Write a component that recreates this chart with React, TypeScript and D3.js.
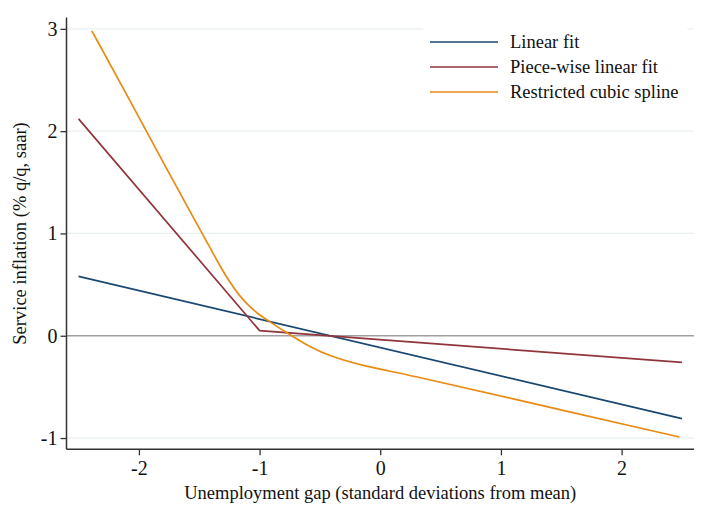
import React, { useEffect, useRef } from 'react';
import * as d3 from 'd3';

// values
const linearFit: [number, number][] = [[-2.5, 0.58], [2.5, -0.81]];
const pieceWiseFit: [number, number][] = [[-2.5, 2.12], [-1.0, 0.05], [2.5, -0.26]];
const cubicSpline: [number, number][] = [
  [-2.39, 2.98], [-2.06, 2.27], [-1.77, 1.63], [-1.495, 1.04], [-1.41, 0.86],
  [-1.33, 0.685], [-1.246, 0.52], [-1.163, 0.385], [-1.08, 0.28], [-0.997, 0.2],
  [-0.914, 0.135], [-0.831, 0.072], [-0.748, 0.01], [-0.583, -0.11], [-0.417, -0.2],
  [-0.141, -0.296], [0.246, -0.384], [1.0, -0.59], [2.48, -0.99],
];
const seriesNames = ['Linear fit', 'Piece-wise linear fit', 'Restricted cubic spline'];
const seriesColors = ['#1a476f', '#90353b', '#e98a12'];
const xTicks = [-2, -1, 0, 1, 2];
const yTicks = [-1, 0, 1, 2, 3];

const W = 701, H = 506;
const font = '"Liberation Serif", "Times New Roman", serif';

export default function App() {
  const ref = useRef<SVGSVGElement>(null);

  useEffect(() => {
    const svg = d3.select(ref.current);
    svg.selectAll('*').remove();

    const x = d3.scaleLinear().domain([-2.6, 2.6]).range([66.5, 694]);
    const y = d3.scaleLinear().domain([-1.11, 3.11]).range([449.3, 17.6]);

    // gridlines
    svg.append('g').selectAll('line')
      .data(yTicks.filter(d => d !== 0))
      .enter().append('line')
        .attr('x1', x(-2.6)).attr('x2', x(2.6))
        .attr('y1', d => y(d)).attr('y2', d => y(d))
        .attr('stroke', '#e8f0f2').attr('stroke-width', 1.2);

    // zero reference line
    svg.append('line')
      .attr('x1', x(-2.6)).attr('x2', x(2.6))
      .attr('y1', y(0)).attr('y2', y(0))
      .attr('stroke', '#a0a0a0').attr('stroke-width', 1.6);

    const line = d3.line<[number, number]>().x(d => x(d[0])).y(d => y(d[1]));
    const spline = d3.line<[number, number]>().x(d => x(d[0])).y(d => y(d[1]))
      .curve(d3.curveBasis);

    const series = [linearFit, pieceWiseFit, cubicSpline];
    series.forEach((s, i) => {
      svg.append('path')
        .attr('d', (i === 2 ? spline : line)(s))
        .attr('fill', 'none')
        .attr('stroke', seriesColors[i])
        .attr('stroke-width', 1.7);
    });

    // axes
    const fmt = (d: d3.NumberValue) => String(d);
    const yAxis = svg.append('g')
      .attr('transform', `translate(${x(-2.6)},0)`)
      .call(d3.axisLeft(y).tickValues(yTicks).tickSize(6).tickFormat(fmt));
    const xAxis = svg.append('g')
      .attr('transform', `translate(0,${y(-1.11)})`)
      .call(d3.axisBottom(x).tickValues(xTicks).tickSize(6).tickFormat(fmt));

    [yAxis, xAxis].forEach(a => {
      a.select('.domain').remove();
      a.selectAll('.tick line').attr('stroke', '#333').attr('stroke-width', 1.3);
      a.selectAll('.tick text')
        .attr('font-family', font).attr('font-size', 20).attr('fill', '#111');
    });
    yAxis.selectAll('.tick text').attr('x', -9);
    xAxis.selectAll('.tick text').attr('y', 12);
    svg.append('line')
      .attr('x1', x(-2.6)).attr('x2', x(-2.6)).attr('y1', y(3.11)).attr('y2', y(-1.11))
      .attr('stroke', '#333').attr('stroke-width', 1.5);
    svg.append('line')
      .attr('x1', x(-2.6)).attr('x2', x(2.6)).attr('y1', y(-1.11)).attr('y2', y(-1.11))
      .attr('stroke', '#333').attr('stroke-width', 1.5);

    // axis titles
    svg.append('text')
      .attr('x', x(0)).attr('y', 499)
      .attr('text-anchor', 'middle')
      .attr('font-family', font).attr('font-size', 18.5).attr('fill', '#111')
      .text('Unemployment gap (standard deviations from mean)');
    svg.append('text')
      .attr('transform', `translate(26,${(y(3.11) + y(-1.11)) / 2}) rotate(-90)`)
      .attr('text-anchor', 'middle')
      .attr('font-family', font).attr('font-size', 18.5).attr('fill', '#111')
      .text('Service inflation (% q/q, saar)');

    // legend
    const legend = svg.append('g');
    legend.append('rect')
      .attr('x', 423).attr('y', 22).attr('width', 264).attr('height', 88)
      .attr('fill', '#fff');
    seriesNames.forEach((name, i) => {
      const ly = 42 + i * 25;
      legend.append('line')
        .attr('x1', 430).attr('x2', 498).attr('y1', ly).attr('y2', ly)
        .attr('stroke', seriesColors[i]).attr('stroke-width', 1.7);
      legend.append('text')
        .attr('x', 510).attr('y', ly + 6)
        .attr('font-family', font).attr('font-size', 18.5).attr('fill', '#111')
        .text(name);
    });
  }, []);

  return (
    <svg ref={ref} width={W} height={H}
      style={{ position: 'absolute', left: 0, top: 0, background: '#fff', display: 'block' }} />
  );
}
